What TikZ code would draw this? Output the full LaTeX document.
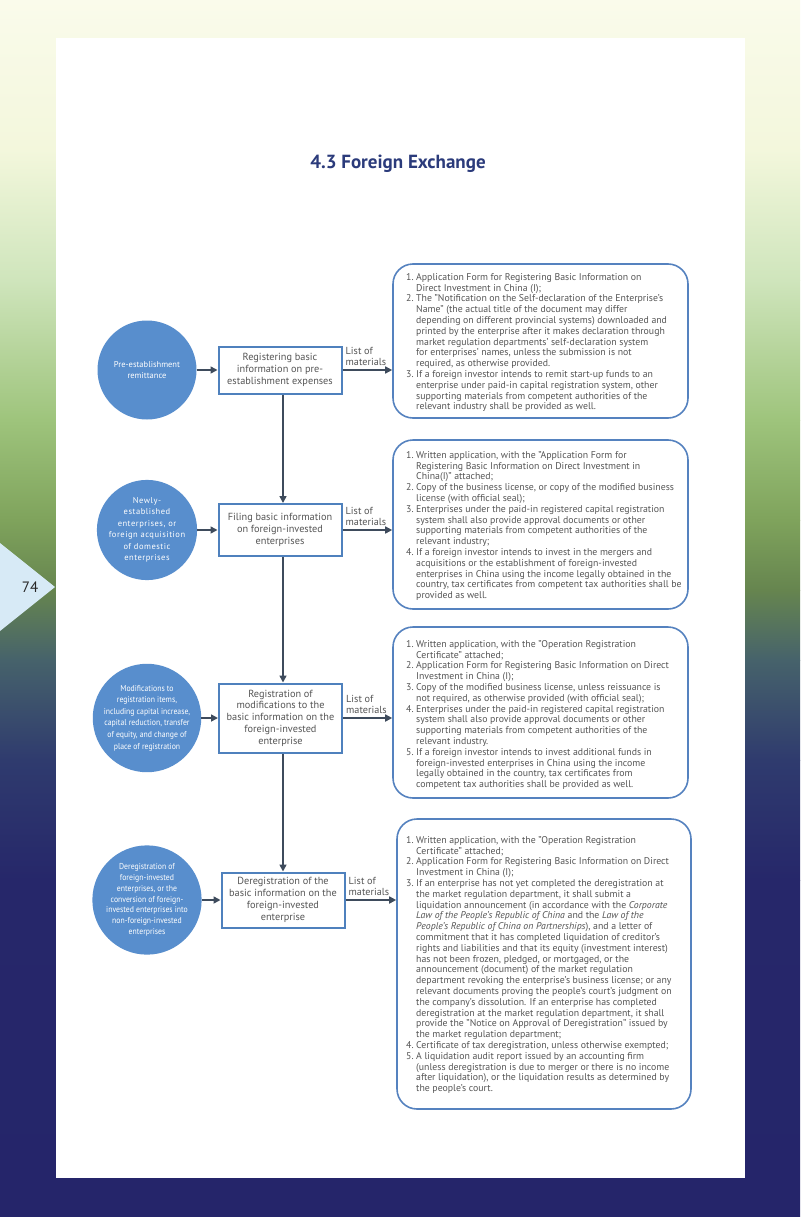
\documentclass[tikz,border=0pt]{standalone}
\usepackage{fontspec}
\setmainfont{PT Sans}
\newfontfamily\condfont[FakeStretch=0.9]{PT Sans}
\newfontfamily\spacedfont[LetterSpace=6]{PT Sans}
\usetikzlibrary{arrows.meta}
\definecolor{bg0}{HTML}{FAFBEB}
\definecolor{bg1}{HTML}{F3F7DC}
\definecolor{bg2}{HTML}{CFE5BC}
\definecolor{bg3}{HTML}{9EC47C}
\definecolor{bg4}{HTML}{7FA35C}
\definecolor{bg5}{HTML}{66854F}
\definecolor{bg6}{HTML}{46626B}
\definecolor{bg7}{HTML}{2F3B6E}
\definecolor{bg8}{HTML}{26276A}
\definecolor{bg9}{HTML}{25256A}
\definecolor{cblue}{HTML}{588ECD}
\definecolor{bblue}{HTML}{4F81BD}
\definecolor{rblue}{HTML}{5582BF}
\definecolor{arrowc}{HTML}{3E4B5C}
\definecolor{txtc}{HTML}{555555}
\definecolor{titlec}{HTML}{2B3B7B}
\definecolor{tabc}{HTML}{D7EAF6}
\newcommand{\nb}[1]{\makebox[10pt][l]{#1}}
\begin{document}
\begin{tikzpicture}[x=1pt,y=-1pt,
  circ/.style={circle,fill=cblue,minimum size=99pt,inner sep=0pt,text=white,align=center},
  stepbox/.style={draw=bblue,line width=2pt,fill=white,minimum width=123pt,align=center,text=txtc,inner sep=2pt,font=\fontsize{10.3}{11.8}\selectfont},
  rbox/.style={draw=rblue,line width=1.6pt,fill=white,rounded corners=20pt,inner sep=0pt},
  txt/.style={anchor=north west,inner sep=0pt,text=txtc,font=\fontsize{9.8}{10.8}\selectfont},
  lbl/.style={anchor=south west,inner sep=0pt,align=left,text=txtc,font=\fontsize{10.2}{11.2}\selectfont},
  arr/.style={draw=arrowc,line width=1.6pt,-{Triangle[length=7pt,width=7pt]}}]
\useasboundingbox (0,0) rectangle (800,1217);
% background bands
\shade[top color=bg0,bottom color=bg1] (0,0) rectangle (800,150);
\shade[top color=bg1,bottom color=bg2] (0,150) rectangle (800,280);
\shade[top color=bg2,bottom color=bg3] (0,280) rectangle (800,420);
\shade[top color=bg3,bottom color=bg4] (0,420) rectangle (800,520);
\shade[top color=bg4,bottom color=bg5] (0,520) rectangle (800,590);
\shade[top color=bg5,bottom color=bg6] (0,590) rectangle (800,660);
\shade[top color=bg6,bottom color=bg7] (0,660) rectangle (800,760);
\shade[top color=bg7,bottom color=bg8] (0,760) rectangle (800,880);
\shade[top color=bg8,bottom color=bg9] (0,880) rectangle (800,1217);
% page
\fill[white] (56,38) rectangle (745,1178);
% page tab
\fill[tabc] (0,543) -- (55,587) -- (0,631) -- cycle;
\node[text=black!85,font=\fontsize{15}{17}\selectfont] (pg) at (30,587) {74};
% title
\node[text=titlec,font=\bfseries\fontsize{19}{22}\selectfont] (title) at (398,164) {4.3 Foreign Exchange};

% circles
\node[circ,font=\fontsize{8.5}{11}\selectfont] (c1) at (147,370) {Pre-establishment\\remittance};
\node[circ,font=\spacedfont\fontsize{8.5}{11.5}\selectfont] (c2) at (147,530) {Newly-\\established\\enterprises, or\\foreign acquisition\\of domestic\\enterprises};
\node[circ,font=\condfont\fontsize{8.6}{11.6}\selectfont] (c3) at (147,718) {Modifications to\\registration items,\\including capital increase,\\capital reduction, transfer\\of equity, and change of\\place of registration};
\node[circ,font=\condfont\fontsize{8.6}{10.8}\selectfont] (c4) at (147,900) {Deregistration of\\foreign-invested\\enterprises, or the\\conversion of foreign-\\invested enterprises into\\non-foreign-invested\\enterprises};

% step boxes
\node[stepbox,minimum height=47pt] (b1) at (280,370) {Registering basic\\information on pre-\\establishment expenses};
\node[stepbox,minimum height=52pt] (b2) at (280,530) {Filing basic information\\on foreign-invested\\enterprises};
\node[stepbox,minimum height=69pt] (b3) at (280.5,718) {Registration of\\modifications to the\\basic information on the\\foreign-invested\\enterprise};
\node[stepbox,minimum height=55pt] (b4) at (283,900) {Deregistration of the\\basic information on the\\foreign-invested\\enterprise};

% rounded boxes
\node[rbox,minimum width=295pt,minimum height=154pt] (r1) at (540.5,341) {};
\node[rbox,minimum width=295pt,minimum height=169pt] (r2) at (540.5,524.5) {};
\node[rbox,minimum width=295pt,minimum height=171pt] (r3) at (540.5,712.5) {};
\node[rbox,minimum width=294pt,minimum height=290pt] (r4) at (544,964) {};

% texts in rounded boxes
\node[txt] (t1) at (406,272.5) {\begin{tabular}{@{}l@{}l@{}}
\nb{1.}&Application Form for Registering Basic Information on\\
&Direct Investment in China (I);\\
\nb{2.}&The "Notification on the Self-declaration of the Enterprise's\\
&Name" (the actual title of the document may differ\\
&depending on different provincial systems) downloaded and\\
&printed by the enterprise after it makes declaration through\\
&market regulation departments' self-declaration system\\
&for enterprises' names, unless the submission is not\\
&required, as otherwise provided.\\
\nb{3.}&If a foreign investor intends to remit start-up funds to an\\
&enterprise under paid-in capital registration system, other\\
&supporting materials from competent authorities of the\\
&relevant industry shall be provided as well.
\end{tabular}};
\node[txt] (t2) at (406,450.5) {\begin{tabular}{@{}l@{}l@{}}
\nb{1.}&Written application, with the "Application Form for\\
&Registering Basic Information on Direct Investment in\\
&China(I)" attached;\\
\nb{2.}&Copy of the business license, or copy of the modified business\\
&license (with official seal);\\
\nb{3.}&Enterprises under the paid-in registered capital registration\\
&system shall also provide approval documents or other\\
&supporting materials from competent authorities of the\\
&relevant industry;\\
\nb{4.}&If a foreign investor intends to invest in the mergers and\\
&acquisitions or the establishment of foreign-invested\\
&enterprises in China using the income legally obtained in the\\
&country, tax certificates from competent tax authorities shall be\\
&provided as well.
\end{tabular}};
\node[txt] (t3) at (406,639.5) {\begin{tabular}{@{}l@{}l@{}}
\nb{1.}&Written application, with the "Operation Registration\\
&Certificate" attached;\\
\nb{2.}&Application Form for Registering Basic Information on Direct\\
&Investment in China (I);\\
\nb{3.}&Copy of the modified business license, unless reissuance is\\
&not required, as otherwise provided (with official seal);\\
\nb{4.}&Enterprises under the paid-in registered capital registration\\
&system shall also provide approval documents or other\\
&supporting materials from competent authorities of the\\
&relevant industry.\\
\nb{5.}&If a foreign investor intends to invest additional funds in\\
&foreign-invested enterprises in China using the income\\
&legally obtained in the country, tax certificates from\\
&competent tax authorities shall be provided as well.
\end{tabular}};
\node[txt] (t4) at (406,835.5) {\begin{tabular}{@{}l@{}l@{}}
\nb{1.}&Written application, with the "Operation Registration\\
&Certificate" attached;\\
\nb{2.}&Application Form for Registering Basic Information on Direct\\
&Investment in China (I);\\
\nb{3.}&If an enterprise has not yet completed the deregistration at\\
&the market regulation department, it shall submit a\\
&liquidation announcement (in accordance with the \textit{Corporate}\\
&\textit{Law of the People's Republic of China} and the \textit{Law of the}\\
&\textit{People's Republic of China on Partnerships}), and a letter of\\
&commitment that it has completed liquidation of creditor's\\
&rights and liabilities and that its equity (investment interest)\\
&has not been frozen, pledged, or mortgaged, or the\\
&announcement (document) of the market regulation\\
&department revoking the enterprise's business license; or any\\
&relevant documents proving the people's court's judgment on\\
&the company's dissolution. If an enterprise has completed\\
&deregistration at the market regulation department, it shall\\
&provide the "Notice on Approval of Deregistration" issued by\\
&the market regulation department;\\
\nb{4.}&Certificate of tax deregistration, unless otherwise exempted;\\
\nb{5.}&A liquidation audit report issued by an accounting firm\\
&(unless deregistration is due to merger or there is no income\\
&after liquidation), or the liquidation results as determined by\\
&the people's court.
\end{tabular}};

% connectors
\draw[arr] (c1.east) -- (b1.west);
\draw[arr] (c2.east) -- (b2.west);
\draw[arr] (c3.east) -- (b3.west);
\draw[arr] (c4.east) -- (b4.west);
\draw[arr] ([xshift=3pt]b1.south) -- ([xshift=3pt]b1.south |- b2.north);
\draw[arr] ([xshift=3pt]b2.south) -- ([xshift=3pt]b2.south |- b3.north);
\draw[arr] ([xshift=2.5pt]b3.south) -- ([xshift=2.5pt]b3.south |- b4.north);
\draw[arr] (b1.east) -- (b1.east -| r1.west);
\draw[arr] (b2.east) -- (b2.east -| r2.west);
\draw[arr] (b3.east) -- (b3.east -| r3.west);
\draw[arr] (b4.east) -- (b4.east -| r4.west);
\node[lbl] (l1) at ([xshift=3pt,yshift=4pt]b1.east) {List of\\materials};
\node[lbl] (l2) at ([xshift=3pt,yshift=4pt]b2.east) {List of\\materials};
\node[lbl] (l3) at ([xshift=3pt,yshift=4pt]b3.east) {List of\\materials};
\node[lbl] (l4) at ([xshift=3pt,yshift=4pt]b4.east) {List of\\materials};
\end{tikzpicture}
\end{document}
